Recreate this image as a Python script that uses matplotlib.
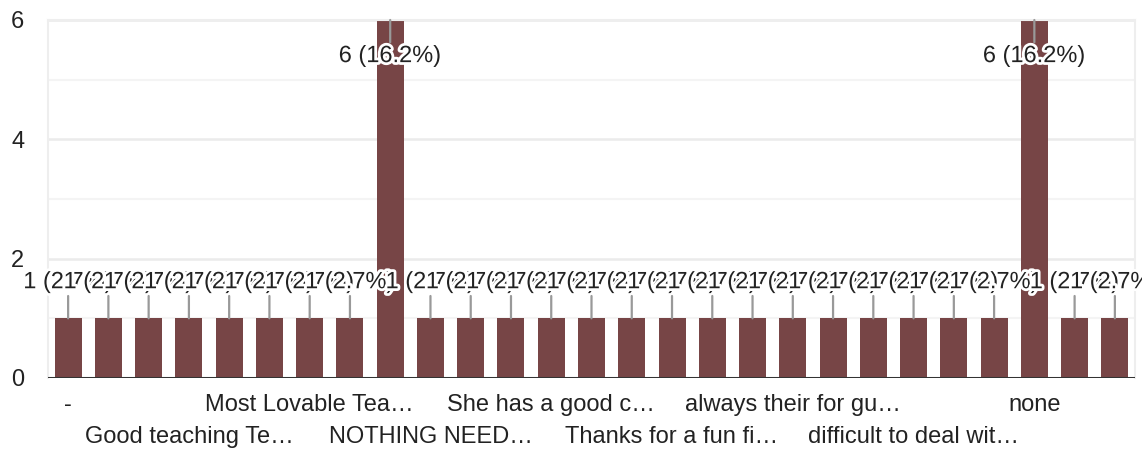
import numpy as np
import matplotlib
matplotlib.use('Agg')
import matplotlib.pyplot as plt
import matplotlib.patheffects as pe

# Responses (sorted as in the form summary); only every 3rd label is visible
categories = ['-', None, None, 'Good teaching Te…', None, None,
              'Most Lovable Tea…', None, None, 'NOTHING NEED…', None, None,
              'She has a good c…', None, None, 'Thanks for a fun fi…', None, None,
              'always their for gu…', None, None, 'difficult to deal wit…', None, None,
              'none', None, None]
counts = [1, 1, 1, 1, 1, 1, 1, 1, 6, 1, 1, 1, 1, 1, 1, 1, 1, 1, 1, 1, 1, 1, 1, 1, 6, 1, 1]
y_ticks = [0, 2, 4, 6]

BAR_COLOR = '#774546'
TEXT_COLOR = '#222222'
FS = 17

plt.rcParams['font.family'] = ['Liberation Sans', 'DejaVu Sans']

total = sum(counts)
x = np.arange(len(counts))

fig = plt.figure(figsize=(11.42, 4.53), dpi=100)
ax = fig.add_axes([48 / 1142, 1 - 378 / 453, (1135 - 48) / 1142, (378 - 20) / 453])

# gridlines
for v in [1, 3, 5]:
    ax.axhline(v, color='#f4f4f4', lw=1.5, zorder=0)
for v in [2, 4, 6]:
    ax.axhline(v, color='#ebebeb', lw=1.8, zorder=0)

ax.bar(x, counts, width=0.67, color=BAR_COLOR, zorder=2)
ax.axhline(0, color='#333333', lw=2.2, zorder=3)

ax.set_xlim(-0.5, len(counts) - 0.5)
ax.set_ylim(0, 6)

# value labels with leader lines
ymax = ax.get_ylim()[1]
for i, c in enumerate(counts):
    label = f'{c} ({c / total * 100:.1f}%)'
    off = -26 if c >= ymax else 26
    ax.annotate(label, xy=(i, c), xytext=(0, off), textcoords='offset points',
                ha='center', va='center', fontsize=FS, color=TEXT_COLOR, zorder=5,
                path_effects=[pe.withStroke(linewidth=4, foreground='white')],
                arrowprops=dict(arrowstyle='-', color='#999999', lw=1.6,
                                shrinkA=0, shrinkB=0))

# staggered category labels
shown = [i for i, c in enumerate(categories) if c]
for k, i in enumerate(shown):
    dy = -19.5 if k % 2 == 0 else -42.5
    ax.annotate(categories[i], xy=(i, 0), xycoords=('data', 'axes fraction'),
                xytext=(0, dy), textcoords='offset points',
                ha='center', va='center', fontsize=FS, color=TEXT_COLOR)

ax.set_xticks([])
ax.set_yticks(y_ticks)
ax.set_yticklabels([str(t) for t in y_ticks], fontsize=FS, color=TEXT_COLOR)
ax.tick_params(axis='y', length=0, pad=17)

for side in ['left', 'right', 'top']:
    ax.spines[side].set_color('#eeeeee')
    ax.spines[side].set_linewidth(1.5)
ax.spines['bottom'].set_visible(False)

fig.savefig('out.png', dpi=100)
